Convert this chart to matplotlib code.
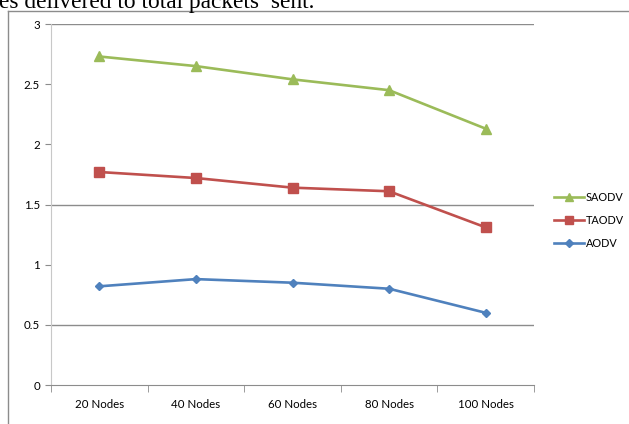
import matplotlib.pyplot as plt
from matplotlib.lines import Line2D

# Packets delivered ratio per protocol for each network size
nodes = ["20 Nodes", "40 Nodes", "60 Nodes", "80 Nodes", "100 Nodes"]
saodv = [2.73, 2.65, 2.54, 2.45, 2.13]
taodv = [1.77, 1.72, 1.64, 1.61, 1.31]
aodv = [0.82, 0.88, 0.85, 0.80, 0.60]

yticks = [0, 0.5, 1, 1.5, 2, 2.5, 3]
grid_at = [0.5, 1.5, 3]

GREEN = "#9BBB59"
RED = "#C0504D"
BLUE = "#4F81BD"
LABEL_FONT = ["Lato", "DejaVu Sans"]

fig = plt.figure(figsize=(6.29, 4.24), dpi=100)
W, H = 629, 424

# caption line from the surrounding document, cut off at the top
fig.text(-1 / W, 1 - 8 / H, "es delivered to total packets\u2019 sent.",
         family="Liberation Serif", fontsize=16.8, va="baseline", ha="left")

# chart frame (only top and left edges fall inside the image)
fig.add_artist(Line2D([8 / W, 1.0], [1 - 11 / H, 1 - 11 / H],
                      transform=fig.transFigure, color="#8c8c8c", lw=1))
fig.add_artist(Line2D([8 / W, 8 / W], [0.0, 1 - 11 / H],
                      transform=fig.transFigure, color="#8c8c8c", lw=1))

ax = fig.add_axes([51 / W, 39 / H, (534 - 51) / W, (385 - 24) / H])
x = list(range(len(nodes)))

ax.plot(x, saodv, color=GREEN, lw=1.9, marker="^", ms=7, label="SAODV")
ax.plot(x, taodv, color=RED, lw=1.9, marker="s", ms=7, label="TAODV")
ax.plot(x, aodv, color=BLUE, lw=1.9, marker="D", ms=4.5, label="AODV")

for g in grid_at:
    ax.axhline(g, color="#8c8c8c", lw=1, zorder=0)

ax.set_xlim(-0.5, len(nodes) - 0.5)
ax.set_ylim(0, 3)
ax.set_yticks(yticks)
ax.set_yticklabels([f"{v:g}" for v in yticks], family=LABEL_FONT, fontsize=8.3)
ax.set_xticks(x)
ax.set_xticklabels(nodes, family=LABEL_FONT, fontsize=8.3)
ax.set_xticks([i - 0.5 for i in range(len(nodes) + 1)], minor=True)
ax.tick_params(axis="x", which="major", length=0, pad=10)
ax.tick_params(axis="x", which="minor", length=5, color="#8c8c8c")
ax.tick_params(axis="y", length=4, color="#8c8c8c", pad=4)

for side in ["top", "right"]:
    ax.spines[side].set_visible(False)
ax.spines["left"].set_color("#c8c8c8")
ax.spines["bottom"].set_color("#8c8c8c")

handles, labels = ax.get_legend_handles_labels()
fig.legend(handles, labels, loc="upper left",
           bbox_to_anchor=(544 / W, 1 - 182 / H),
           frameon=False, prop={"family": LABEL_FONT, "size": 7.8},
           handlelength=2.8, handletextpad=0.15, labelspacing=1.1,
           markerscale=0.8)

fig.savefig("out.png", dpi=100)
